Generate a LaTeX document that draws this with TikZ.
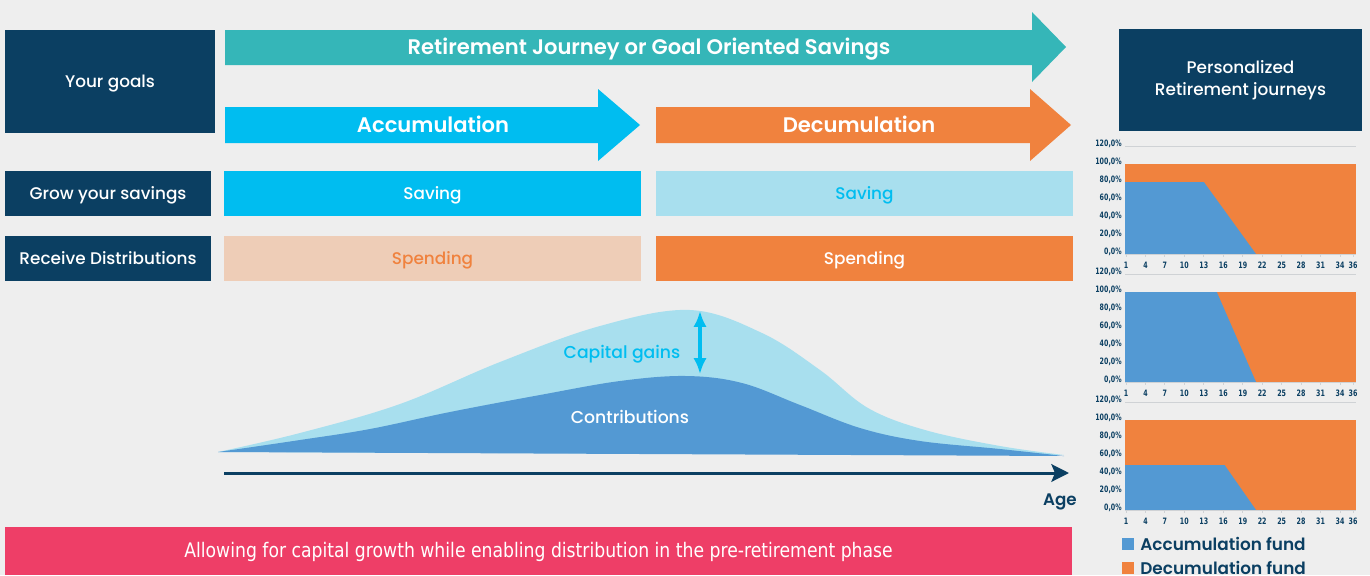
\documentclass[tikz,border=0pt]{standalone}
\usepackage{fontspec}
\setmainfont{Poppins}[UprightFont={* Medium}, BoldFont={* SemiBold}]
\newfontfamily\bandfont[FakeStretch=0.86]{DejaVu Sans}
\newfontfamily\tickfont[FakeStretch=0.72]{DejaVu Sans}
\usetikzlibrary{arrows.meta}
\definecolor{paper}{HTML}{EEEEEE}
\definecolor{navy}{HTML}{0B3F62}
\definecolor{teal}{HTML}{35B6B8}
\definecolor{sky}{HTML}{00BDF0}
\definecolor{rust}{HTML}{F0823E}
\definecolor{paleblue}{HTML}{A8DFEE}
\definecolor{peach}{HTML}{EECDB7}
\definecolor{fundblue}{HTML}{5399D3}
\definecolor{rose}{HTML}{EE3E67}
\definecolor{gridgrey}{HTML}{CFD2D5}

\begin{document}
\begin{tikzpicture}[
  x=0.2mm, y=-0.2mm,
  oneline/.style={text height=0.7em, text depth=0pt},
  goal/.style={fill=navy, text=white, inner sep=0, align=center,
               font=\fontsize{9.6}{12.2}\selectfont},
  cell/.style={oneline, inner sep=0, minimum width=83.4mm, minimum height=9mm,
               font=\fontsize{9.6}{11}\selectfont},
  phase/.style={oneline, text=white, inner sep=0, font=\fontsize{12}{13}\selectfont\bfseries},
  say/.style={oneline, inner sep=0, font=\fontsize{9.8}{11}\selectfont},
  tick/.style={inner sep=0, text=navy, font=\tickfont\bfseries\fontsize{5}{6}\selectfont},
  legend/.style={anchor=west, inner sep=0, text=navy, font=\fontsize{9.6}{12}\selectfont\bfseries},
  axisarr/.style={-{Stealth[length=10pt, width=10pt, inset=2pt]}, draw=navy, line width=1.7pt},
  gainarr/.style={{Latex[length=9pt, width=7.5pt]}-{Latex[length=9pt, width=7.5pt]}, draw=sky, line width=2pt},
  gridline/.style={draw=gridgrey, line width=0.5pt}
]
\useasboundingbox (0,0) rectangle (1370,575);
\fill[paper] (0,0) rectangle (1370,575);

% Row headers
\node[goal, oneline, minimum width=42mm, minimum height=20.6mm] (goals) at (110,81.5) {Your goals};
\node[goal, oneline, minimum width=41.2mm, minimum height=9mm] (grow) at (108,193.5) {Grow your savings};
\node[goal, oneline, minimum width=41.2mm, minimum height=9mm] (receive) at (108,258.5) {Receive Distributions};

% Phase arrows
\fill[teal] (225,30) -- (1032,30) -- (1032,12) -- (1066,47) -- (1032,82) -- (1032,65) -- (225,65) -- cycle;
\fill[sky]  (225,107) -- (598,107) -- (598,89) -- (640,125) -- (598,161) -- (598,143) -- (225,143) -- cycle;
\fill[rust] (656,107) -- (1030,107) -- (1030,89) -- (1071,125) -- (1030,161) -- (1030,143) -- (656,143) -- cycle;
\node[phase] (journey) at (649,48) {Retirement Journey or Goal Oriented Savings};
\node[phase] (accum) at (433,126.5) {Accumulation};
\node[phase] (decum) at (859,126.5) {Decumulation};

% Saving / spending cells
\node[cell, fill=sky, text=white]     (saveacc)  at (432.5,193.5) {Saving};
\node[cell, fill=paleblue, text=sky]  (savedec)  at (864.5,193.5) {Saving};
\node[cell, fill=peach, text=rust]    (spendacc) at (432.5,258.5) {Spending};
\node[cell, fill=rust, text=white]    (spenddec) at (864.5,258.5) {Spending};

% Wealth curve
\fill[paleblue] plot[smooth, tension=0.6] coordinates {(218,452) (300,433) (400,404) (500,362)
  (600,326) (690,310) (762,333) (820,370) (868,408) (925,430) (1000,446) (1064,455)} -- cycle;
\fill[fundblue] plot[smooth, tension=0.6] coordinates {(218,452) (300,440) (370,429) (450,412)
  (540,395) (620,381) (686,376) (742,383) (800,405) (860,428) (920,441) (1000,449) (1064,456)} -- cycle;
\node[say, text=sky] (gains) at (622,352) {Capital gains};
\node[say, text=white] (contrib) at (630,417) {Contributions};
\coordinate (peak) at (700,311);
\coordinate (hump) at (700,374);
\draw[gainarr] (peak) -- (hump);

\coordinate (origin) at (224,473);
\coordinate (ageend) at (1069,473);
\draw[axisarr] (origin) -- (ageend);
\node[say, text=navy, font=\fontsize{9.5}{11}\selectfont\bfseries] (age) at (1060,499) {Age};

% Bottom band
\node[fill=rose, text=white, inner sep=0, minimum width=213.4mm, minimum height=9.6mm,
      text height=0.72em, text depth=0pt,
      font=\bandfont\fontsize{11.4}{13}\selectfont] (band) at (538.5,551)
  {Allowing for capital growth while enabling distribution in the pre-retirement phase};

% Personalized journeys
\node[goal, minimum width=48.6mm, minimum height=20.4mm] (journeys) at (1240.5,80)
  {Personalized\\Retirement journeys};

\foreach \base/\share/\knee in {254/80/13, 382/100/15, 510/50/16.2} {
  \draw[gridline] (1125,\base-108) -- (1356,\base-108);
  \fill[rust] (1125,\base-90) rectangle (1356,\base);
  \fill[fundblue] (1125,\base) -- (1125,\base-0.9*\share)
    -- ({1126+(\knee-1)*6.486},\base-0.9*\share) -- (1256,\base) -- cycle;
  \draw[gridline] (1125,\base) -- (1356,\base);
  \foreach \p in {0,20,40,60,80,100,120}
    \node[tick, anchor=east] (c\base-y\p) at (1122,\base-0.9*\p-2) {\p,0\%};
  \foreach \v in {1,4,7,10,13,16,19,22,25,28,31,34,36} {
    \draw[gridline] ({1126+(\v-1)*6.486},\base) -- ++(0,3);
    \node[tick] (c\base-x\v) at ({1126+(\v-1)*6.486},\base+11) {\v};
  }
}

\fill[fundblue] (1122,538) rectangle (1134,550);
\node[legend] (accfund) at (1140,544) {Accumulation fund};
\fill[rust] (1122,562) rectangle (1134,574);
\node[legend] (decfund) at (1140,568) {Decumulation fund};

\end{tikzpicture}
\end{document}
